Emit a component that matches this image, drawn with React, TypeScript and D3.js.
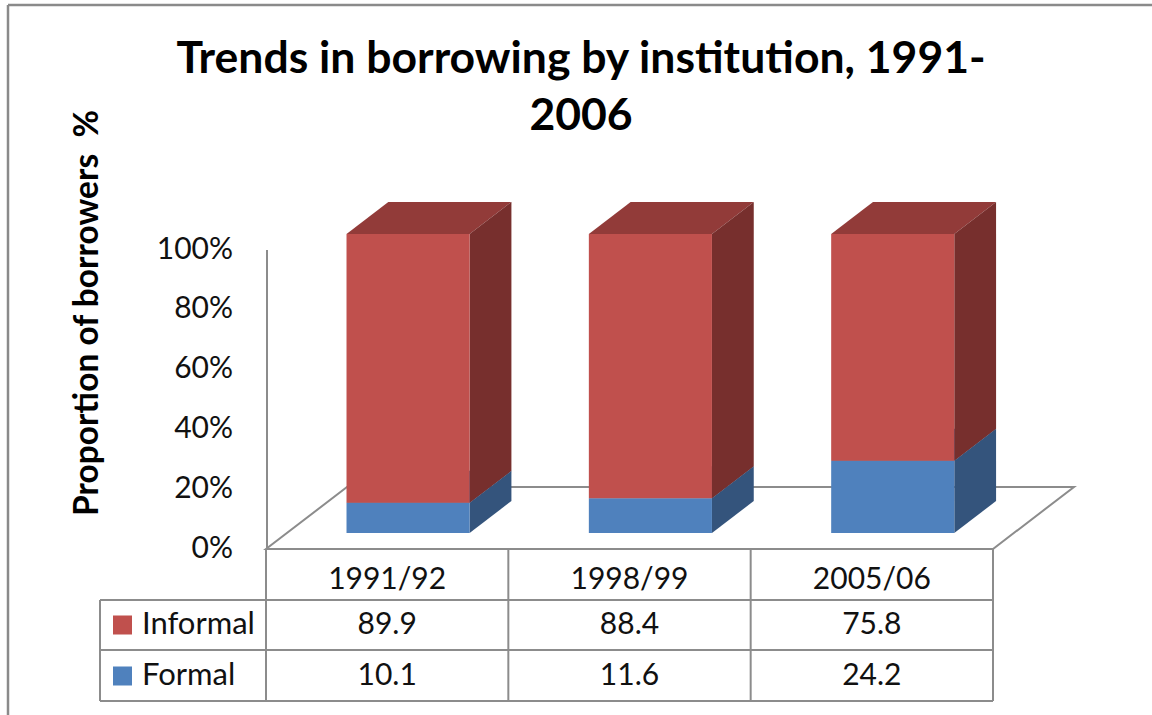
import React from "react";
import * as d3 from "d3";

const categories = ["1991/92", "1998/99", "2005/06"];
const informal = [89.9, 88.4, 75.8];
const formal = [10.1, 11.6, 24.2];
const yTicks = [0, 20, 40, 60, 80, 100];
const titleLines = ["Trends in borrowing by institution, 1991-", "2006"];
const yAxisTitle = "Proportion of borrowers  %";

const W = 1152;
const H = 715;
const FONT = "Lato, 'Open Sans', sans-serif";
const GRID = "#8c8c8c";

const series = [
  { name: "Formal", values: formal, front: "#4F81BD", side: "#34547C", top: "#3F6798" },
  { name: "Informal", values: informal, front: "#C0504D", side: "#772F2D", top: "#923B39" },
];
const legendRows = [series[1], series[0]];

export default function App() {
  const x = d3.scaleBand<string>().domain(categories).range([266, 993]).paddingInner(0).paddingOuter(0);
  const y = d3.scaleLinear().domain([0, 100]).range([549, 250]);
  const DX = 81;
  const DY = -62;
  const zF = 0.258;
  const zB = 0.774;
  const bw = x.bandwidth();
  const barW = bw * 0.508;

  const pt = (xv: number, v: number, z: number) => [xv + DX * z, y(v) + DY * z];
  const poly = (pts: number[][]) => pts.map((p) => p.join(",")).join(" ");

  const stacked = d3.stack<number>().keys(["0", "1"]).value((_d, key) => series[+key].values[_d])(
    categories.map((_c, i) => i)
  );

  const floor = [pt(266, 0, 0), pt(993, 0, 0), pt(993, 0, 1), pt(266, 0, 1)];

  const rowTop = 549;
  const row1 = 600;
  const row2 = 650;
  const rowBot = 701;
  const tableLeft = 100;
  const TS = 30;

  return (
    <svg width={W} height={H} style={{ position: "absolute", left: 0, top: 0, background: "#fff" }}>
      <rect x={0} y={0} width={W} height={H} fill="#fff" />
      {/* chart border */}
      <line x1={8} y1={5} x2={W} y2={5} stroke="#8a8a8a" strokeWidth={2.5} />
      <line x1={8} y1={5} x2={8} y2={H} stroke="#8a8a8a" strokeWidth={2.5} />

      {/* title */}
      {titleLines.map((t, i) => (
        <text key={t} x={581} y={73 + i * 57} textAnchor="middle" fontFamily={FONT} fontWeight={700} fontSize={44.5} fill="#000">
          {t}
        </text>
      ))}

      {/* y axis title */}
      <text
        transform={`translate(98,313) rotate(-90)`}
        textAnchor="middle"
        fontFamily={FONT}
        fontWeight={700}
        fontSize={33.5}
        fill="#000"
        style={{ whiteSpace: "pre" }}
        xmlSpace="preserve"
      >
        {yAxisTitle}
      </text>

      {/* floor */}
      <polygon points={poly(floor)} fill="none" stroke={GRID} strokeWidth={2} />
      {/* vertical axis */}
      <line x1={267} y1={y(100)} x2={267} y2={y(0)} stroke={GRID} strokeWidth={2} />

      {/* tick labels */}
      {yTicks.map((t) => (
        <text key={t} x={233} y={y(t) + 1} textAnchor="end" dominantBaseline="middle" fontFamily={FONT} fontSize={TS} fill="#111">
          {t}%
        </text>
      ))}

      {/* bars */}
      {categories.map((c, i) => {
        const x0 = (x(c) as number) + (bw - barW) / 2;
        const x1 = x0 + barW;
        return (
          <g key={c}>
            {stacked.map((layer, si) => {
              const s = series[si];
              const v0 = layer[i][0];
              const v1 = layer[i][1];
              const front = [pt(x0, v0, zF), pt(x1, v0, zF), pt(x1, v1, zF), pt(x0, v1, zF)];
              const side = [pt(x1, v0, zF), pt(x1, v0, zB), pt(x1, v1, zB), pt(x1, v1, zF)];
              const top = [pt(x0, v1, zF), pt(x1, v1, zF), pt(x1, v1, zB), pt(x0, v1, zB)];
              return (
                <g key={s.name}>
                  <polygon points={poly(top)} fill={s.top} />
                  <polygon points={poly(side)} fill={s.side} />
                  <polygon points={poly(front)} fill={s.front} />
                </g>
              );
            })}
          </g>
        );
      })}

      {/* data table */}
      <g stroke={GRID} strokeWidth={2} fill="none">
        <line x1={266} y1={rowTop} x2={993} y2={rowTop} />
        <line x1={tableLeft} y1={row1} x2={993} y2={row1} />
        <line x1={tableLeft} y1={row2} x2={993} y2={row2} />
        <line x1={tableLeft} y1={rowBot} x2={993} y2={rowBot} />
        <line x1={tableLeft} y1={row1} x2={tableLeft} y2={rowBot} />
        <line x1={266} y1={rowTop} x2={266} y2={rowBot} />
        {categories.map((c) => {
          const xe = (x(c) as number) + bw;
          return <line key={c} x1={xe} y1={rowTop} x2={xe} y2={rowBot} />;
        })}
      </g>
      {categories.map((c) => (
        <text key={c} x={(x(c) as number) + bw / 2} y={581} textAnchor="middle" dominantBaseline="middle" fontFamily={FONT} fontSize={TS} fill="#111">
          {c}
        </text>
      ))}
      {legendRows.map((s, ri) => {
        const yc = ri === 0 ? 625 : 676;
        return (
          <g key={s.name}>
            <rect x={113} y={yc - 9.5} width={19} height={19} fill={s.front} />
            <text x={142} y={yc + 1} dominantBaseline="middle" fontFamily={FONT} fontSize={31} fill="#111">
              {s.name}
            </text>
            {categories.map((c, i) => (
              <text key={c} x={(x(c) as number) + bw / 2} y={yc + 1} textAnchor="middle" dominantBaseline="middle" fontFamily={FONT} fontSize={TS} fill="#111">
                {s.values[i].toFixed(1)}
              </text>
            ))}
          </g>
        );
      })}
    </svg>
  );
}
